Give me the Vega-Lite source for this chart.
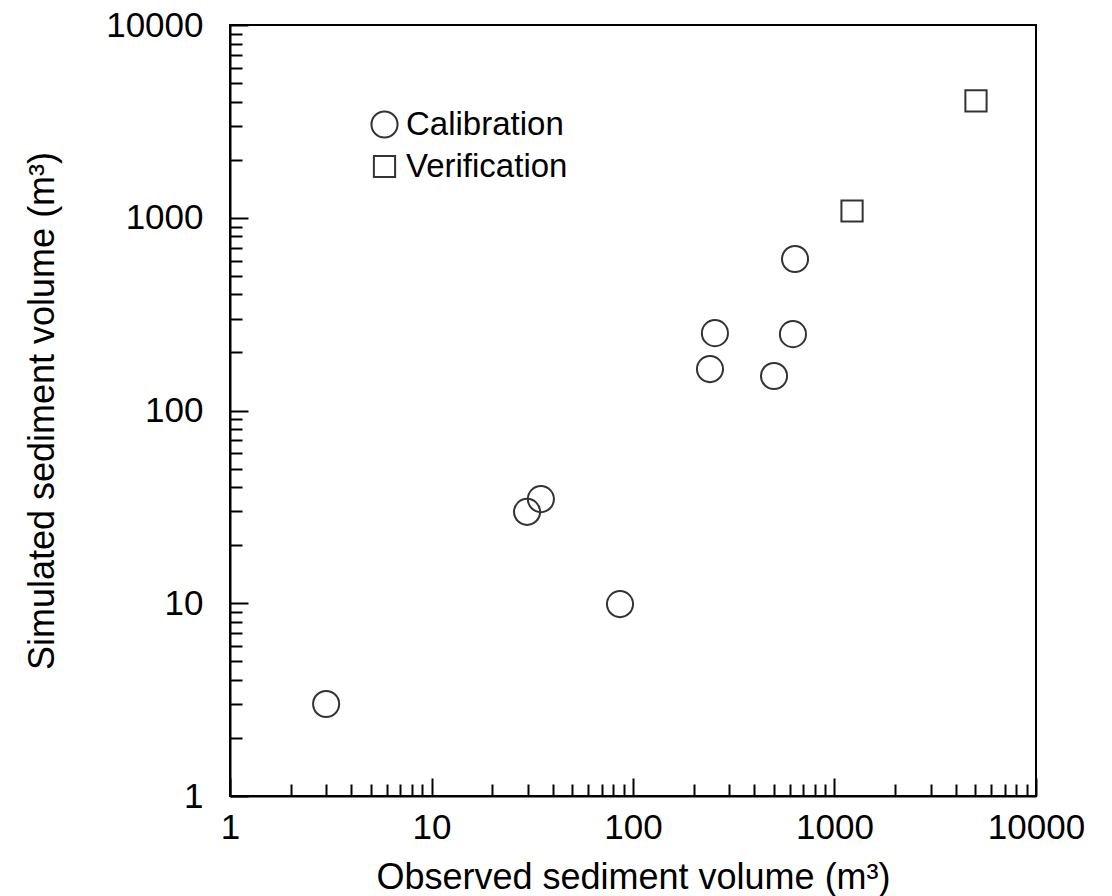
{
  "$schema": "https://vega.github.io/schema/vega-lite/v6.json",
  "width": 806,
  "height": 771,
  "autosize": {"type": "none"},
  "padding": {"left": 230, "top": 25, "right": 76, "bottom": 100},
  "background": "white",
  "config": {
    "view": {"stroke": "black", "strokeWidth": 2},
    "font": "Liberation Sans"
  },
  "data": {
    "values": [
      {"observed": 3, "simulated": 3, "set": "Calibration"},
      {"observed": 29.8, "simulated": 29.8, "set": "Calibration"},
      {"observed": 34.9, "simulated": 34.7, "set": "Calibration"},
      {"observed": 86.2, "simulated": 9.9, "set": "Calibration"},
      {"observed": 241, "simulated": 164, "set": "Calibration"},
      {"observed": 255, "simulated": 252, "set": "Calibration"},
      {"observed": 501, "simulated": 151, "set": "Calibration"},
      {"observed": 622, "simulated": 249, "set": "Calibration"},
      {"observed": 637, "simulated": 611, "set": "Calibration"},
      {"observed": 1222, "simulated": 1084, "set": "Verification"},
      {"observed": 5037, "simulated": 4035, "set": "Verification"}
    ]
  },
  "mark": {"type": "point", "filled": false, "strokeWidth": 2, "color": "#333333", "opacity": 1},
  "encoding": {
    "x": {
      "field": "observed",
      "type": "quantitative",
      "scale": {"type": "log", "domain": [1, 10000], "nice": false},
      "axis": {
        "title": "Observed sediment volume (m³)",
        "values": [1,2,3,4,5,6,7,8,9,10,20,30,40,50,60,70,80,90,100,200,300,400,500,600,700,800,900,1000,2000,3000,4000,5000,6000,7000,8000,9000,10000],
        "format": "d",
        "labelExpr": "indexof([1,10,100,1000,10000], datum.value) >= 0 ? datum.label : ''",
        "tickSize": {"expr": "indexof([1,10,100,1000,10000], datum.value) >= 0 ? -18 : -12"},
        "tickColor": "black",
        "tickWidth": 2,
        "domainColor": "black",
        "domainWidth": 2,
        "grid": false,
        "labelFontSize": 35,
        "labelColor": "black",
        "labelPadding": 32,
        "labelOverlap": false,
        "labelFlush": false,
        "titleFontSize": 36,
        "titleFontWeight": "normal",
        "titleColor": "black",
        "titlePadding": 9
      }
    },
    "y": {
      "field": "simulated",
      "type": "quantitative",
      "scale": {"type": "log", "domain": [1, 10000], "nice": false},
      "axis": {
        "title": "Simulated sediment volume (m³)",
        "values": [1,2,3,4,5,6,7,8,9,10,20,30,40,50,60,70,80,90,100,200,300,400,500,600,700,800,900,1000,2000,3000,4000,5000,6000,7000,8000,9000,10000],
        "format": "d",
        "labelExpr": "indexof([1,10,100,1000,10000], datum.value) >= 0 ? datum.label : ''",
        "tickSize": {"expr": "indexof([1,10,100,1000,10000], datum.value) >= 0 ? -18 : -12"},
        "tickColor": "black",
        "tickWidth": 2,
        "domainColor": "black",
        "domainWidth": 2,
        "grid": false,
        "labelFontSize": 35,
        "labelColor": "black",
        "labelPadding": 45,
        "labelOverlap": false,
        "labelFlush": false,
        "titleFontSize": 36,
        "titleFontWeight": "normal",
        "titleColor": "black",
        "titlePadding": 44
      }
    },
    "shape": {
      "field": "set",
      "type": "nominal",
      "scale": {"domain": ["Calibration", "Verification"], "range": ["circle", "square"]},
      "legend": {
        "orient": "none",
        "legendX": 138,
        "legendY": 83,
        "title": null,
        "padding": 0,
        "labelFontSize": 33,
        "labelLimit": 400,
        "labelColor": "black",
        "labelOffset": 5,
        "symbolStrokeWidth": 2,
        "symbolStrokeColor": "#333333",
        "symbolFillColor": "transparent",
        "rowPadding": 8
      }
    },
    "size": {
      "field": "set",
      "type": "nominal",
      "scale": {"domain": ["Calibration", "Verification"], "range": [680, 450]},
      "legend": {
        "orient": "none",
        "legendX": 138,
        "legendY": 83,
        "title": null,
        "padding": 0,
        "labelFontSize": 33,
        "labelLimit": 400,
        "labelColor": "black",
        "labelOffset": 5,
        "symbolStrokeWidth": 2,
        "symbolStrokeColor": "#333333",
        "symbolFillColor": "transparent",
        "rowPadding": 8
      }
    }
  }
}
